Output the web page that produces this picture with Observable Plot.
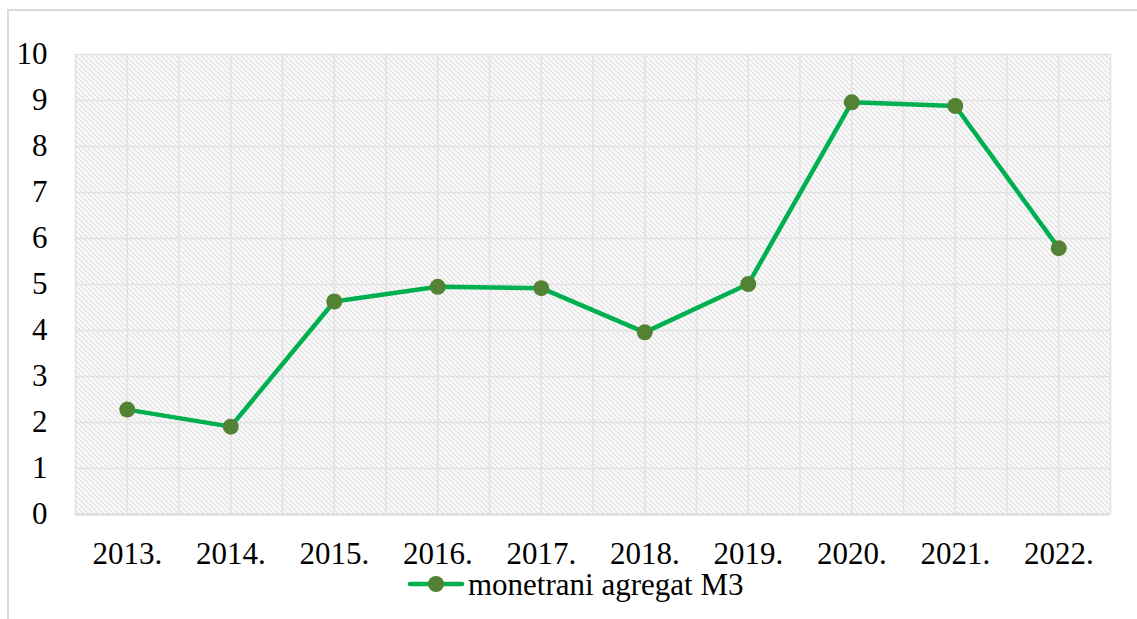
<!DOCTYPE html>
<html>
<head>
<meta charset="utf-8">
<script src="https://cdn.jsdelivr.net/npm/d3@7"></script>
<script src="https://cdn.jsdelivr.net/npm/@observablehq/plot@0.6"></script>
<style>
  html, body { margin: 0; padding: 0; background: #fff; overflow: hidden; width: 1137px; height: 619px; }
  #wrap { position: relative; width: 1137px; height: 619px; }
  #border { position: absolute; left: 7px; top: 9px; width: 1200px; height: 700px; border: 2px solid #d9d9d9; box-sizing: border-box; }
  #chart { position: absolute; left: 0; top: 0; }
  #legend { position: absolute; left: 0; top: 562px; }
</style>
</head>
<body>
<div id="wrap">
  <div id="border"></div>
  <div id="chart"></div>
  <div id="legend"></div>
</div>
<script>
// Data
const years = [2013, 2014, 2015, 2016, 2017, 2018, 2019, 2020, 2021, 2022];
const m3Values = [2.28, 1.91, 4.63, 4.95, 4.92, 3.96, 5.01, 8.96, 8.88, 5.79];
const yTicks = [0, 1, 2, 3, 4, 5, 6, 7, 8, 9, 10];
const seriesName = "monetrani agregat M3";

const lineColor = "#00B050";
const dotColor = "#548235";
const gridColor = "#e2e2e2";
const fontFamily = "'Liberation Serif', 'Times New Roman', Tinos, serif";

const data = years.map((y, i) => ({year: y, value: m3Values[i]}));
const xGrid = d3.range(years[0] - 0.5, years[years.length - 1] + 0.51, 0.5);

const chart = Plot.plot({
  width: 1137,
  height: 562,
  marginLeft: 75,
  marginRight: 27,
  marginTop: 54,
  marginBottom: 48,
  style: {fontFamily, fontSize: "31px", color: "#000", background: "transparent", overflow: "visible"},
  x: {domain: [years[0] - 0.5, years[years.length - 1] + 0.5], ticks: years, tickFormat: d => d + ".", tickSize: 0, tickPadding: 27, label: null},
  y: {domain: [0, 10], ticks: yTicks, tickFormat: d => String(d), tickSize: 0, tickPadding: 28, label: null},
  marks: [
    Plot.frame({fill: "url(#hatch)", stroke: "none"}),
    Plot.ruleY(yTicks, {stroke: gridColor, strokeWidth: 1.6}),
    Plot.ruleX(xGrid, {stroke: gridColor, strokeWidth: 1.6}),
    Plot.ruleY([0], {stroke: "#d9d9d9", strokeWidth: 2}),
    Plot.line(data, {x: "year", y: "value", stroke: lineColor, strokeWidth: 4.5, strokeLinejoin: "round"}),
    Plot.dot(data, {x: "year", y: "value", r: 8, fill: dotColor, stroke: "none"})
  ]
});

// hatch pattern definition
const svg = d3.select(chart);
const defs = svg.insert("defs", ":first-child");
const pat = defs.append("pattern")
  .attr("id", "hatch")
  .attr("patternUnits", "userSpaceOnUse")
  .attr("width", 5)
  .attr("height", 5);
pat.append("rect").attr("width", 5).attr("height", 5).attr("fill", "#ffffff");
pat.append("path")
  .attr("d", "M0,0 L5,5 M-1,4 L1,6 M4,-1 L6,1")
  .attr("stroke", "#d4d4d4")
  .attr("stroke-width", 1.1);

document.getElementById("chart").appendChild(chart);

// legend (svg top at 562)
const ls = d3.select("#legend").append("svg").attr("width", 1137).attr("height", 55)
  .style("font-family", fontFamily).style("font-size", "31px");
ls.append("line").attr("x1", 410).attr("x2", 462).attr("y1", 22).attr("y2", 22)
  .attr("stroke", lineColor).attr("stroke-width", 4.5).attr("stroke-linecap", "round");
ls.append("circle").attr("cx", 436).attr("cy", 22).attr("r", 8).attr("fill", dotColor);
ls.append("text").attr("x", 468).attr("y", 33).attr("fill", "#000").text(seriesName);
</script>
</body>
</html>
